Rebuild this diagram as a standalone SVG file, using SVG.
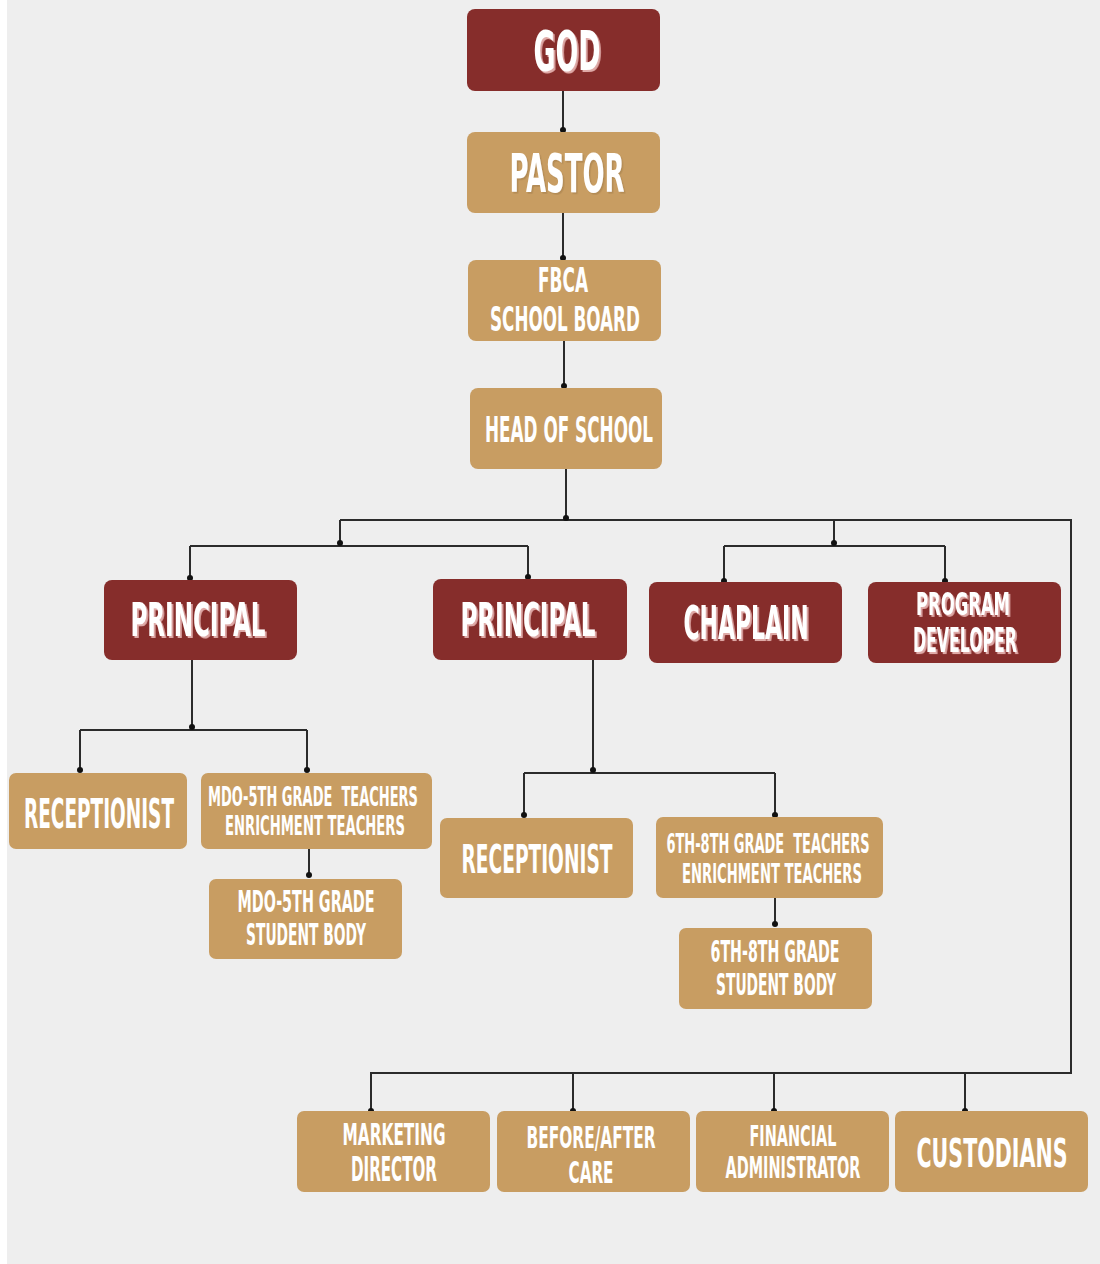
<svg xmlns="http://www.w3.org/2000/svg" width="1100" height="1264" viewBox="0 0 1100 1264">
<defs>
<style>
.red{fill:#862d2b}
.gold{fill:#c89d62}
.t{font-family:"DejaVu Sans Condensed","Liberation Sans",sans-serif;font-weight:bold;fill:#ffffff;text-anchor:middle}
.c{fill:none;stroke:#2b2b2b;stroke-width:2}
.d{fill:#111111}
</style>
<filter id="sh" x="-10%" y="-20%" width="130%" height="150%">
<feDropShadow dx="1.8" dy="1.1" stdDeviation="0.3" flood-color="#e8b7b5" flood-opacity="0.9"/>
</filter>
<filter id="shg" x="-10%" y="-20%" width="130%" height="150%">
<feDropShadow dx="1.5" dy="0.9" stdDeviation="0.4" flood-color="#8a6a3a" flood-opacity="0.35"/>
</filter>
</defs>
<rect x="0" y="0" width="1100" height="1264" fill="#ffffff"/>
<rect x="7" y="0" width="1093" height="1264" fill="#eeeeee"/>

<g id="connectors">
<path class="c" d="M563 91V130M563 213V258M564 341V386M566 469V518"/>
<path class="c" d="M340 520H1071V1073H371V1111M340 520V546M190 546H528M190 546V578M528 546V578"/>
<path class="c" d="M834 520V546M724 546H945M724 546V582M945 546V582"/>
<path class="c" d="M192 660V730M80 730H307M80 730V771M307 730V771M309 849V875"/>
<path class="c" d="M593 660V773M524 773H775M524 773V816M775 773V816M775 898V924"/>
<path class="c" d="M573 1073V1111M774 1073V1111M965 1073V1111"/>
<g class="d">
<circle cx="563" cy="130" r="3"/><circle cx="563" cy="258" r="3"/><circle cx="564" cy="386" r="3"/><circle cx="566" cy="518" r="3"/>
<circle cx="340" cy="543" r="3"/><circle cx="190" cy="578" r="3"/><circle cx="528" cy="577" r="3"/>
<circle cx="834" cy="543" r="3"/><circle cx="724" cy="581" r="3"/><circle cx="945" cy="581" r="3"/>
<circle cx="192" cy="727" r="3"/><circle cx="80" cy="770" r="3"/><circle cx="307" cy="770" r="3"/><circle cx="309" cy="875" r="3"/>
<circle cx="593" cy="770" r="3"/><circle cx="524" cy="815" r="3"/><circle cx="775" cy="815" r="3"/><circle cx="775" cy="924" r="3"/>
<circle cx="371" cy="1111" r="3"/><circle cx="573" cy="1111" r="3"/><circle cx="774" cy="1111" r="3"/><circle cx="965" cy="1111" r="3"/>
</g>
</g>

<g id="god"><rect class="red" x="467" y="9" width="193" height="82" rx="8"/>
<text class="t" x="567" y="70" font-size="29.8" textLength="67" lengthAdjust="spacingAndGlyphs" transform="matrix(1 0 0 1.84 0 -58.8)" filter="url(#sh)">GOD</text></g>

<g id="pastor"><rect class="gold" x="467" y="132" width="193" height="81" rx="8"/>
<text class="t" x="567" y="192" font-size="28.2" textLength="115" lengthAdjust="spacingAndGlyphs" transform="matrix(1 0 0 1.9 0 -172.8)" filter="url(#shg)">PASTOR</text></g>

<g id="board"><rect class="gold" x="468" y="260" width="193" height="81" rx="8"/>
<text class="t" x="563" y="292" font-size="18.8" textLength="50" lengthAdjust="spacingAndGlyphs" transform="matrix(1 0 0 1.75 0 -219)">FBCA</text>
<text class="t" x="565" y="331" font-size="18.6" textLength="150" lengthAdjust="spacingAndGlyphs" transform="matrix(1 0 0 1.77 0 -254.87)">SCHOOL BOARD</text></g>

<g id="head"><rect class="gold" x="470" y="388" width="192" height="81" rx="8"/>
<text class="t" x="569" y="442" font-size="18.7" textLength="168" lengthAdjust="spacingAndGlyphs" transform="matrix(1 0 0 1.9 0 -397.8)">HEAD OF SCHOOL</text></g>

<g id="principal1"><rect class="red" x="104" y="580" width="193" height="80" rx="8"/>
<text class="t" x="198" y="636" font-size="25.2" textLength="135" lengthAdjust="spacingAndGlyphs" transform="matrix(1 0 0 1.8 0 -508.8)" filter="url(#sh)">PRINCIPAL</text></g>

<g id="principal2"><rect class="red" x="433" y="579" width="194" height="81" rx="8"/>
<text class="t" x="528" y="636" font-size="25.2" textLength="135" lengthAdjust="spacingAndGlyphs" transform="matrix(1 0 0 1.8 0 -508.8)" filter="url(#sh)">PRINCIPAL</text></g>

<g id="chaplain"><rect class="red" x="649" y="582" width="193" height="81" rx="8"/>
<text class="t" x="746" y="639" font-size="24.4" textLength="125" lengthAdjust="spacingAndGlyphs" transform="matrix(1 0 0 1.86 0 -549.54)" filter="url(#sh)">CHAPLAIN</text></g>

<g id="developer"><rect class="red" x="868" y="582" width="193" height="81" rx="8"/>
<text class="t" x="963" y="615" font-size="18.3" textLength="94" lengthAdjust="spacingAndGlyphs" transform="matrix(1 0 0 1.73 0 -448.95)" filter="url(#sh)">PROGRAM</text>
<text class="t" x="965" y="652" font-size="17.4" textLength="104" lengthAdjust="spacingAndGlyphs" transform="matrix(1 0 0 1.89 0 -580.28)" filter="url(#sh)">DEVELOPER</text></g>

<g id="receptionist1"><rect class="gold" x="9" y="773" width="178" height="76" rx="7"/>
<text class="t" x="99" y="828" font-size="20.5" textLength="150" lengthAdjust="spacingAndGlyphs" transform="matrix(1 0 0 2 0 -828)">RECEPTIONIST</text></g>

<g id="mdo-teachers"><rect class="gold" x="201" y="773" width="231" height="76" rx="7"/>
<text class="t" x="313" y="806" font-size="14.5" textLength="210" lengthAdjust="spacingAndGlyphs" transform="matrix(1 0 0 1.89 0 -717.34)" xml:space="preserve">MDO-5TH GRADE  TEACHERS</text>
<text class="t" x="315" y="835" font-size="14.65" textLength="180" lengthAdjust="spacingAndGlyphs" transform="matrix(1 0 0 1.87 0 -726.45)">ENRICHMENT TEACHERS</text></g>

<g id="mdo-students"><rect class="gold" x="209" y="879" width="193" height="80" rx="7"/>
<text class="t" x="306" y="912" font-size="16" textLength="137" lengthAdjust="spacingAndGlyphs" transform="matrix(1 0 0 1.89 0 -811.68)">MDO-5TH GRADE</text>
<text class="t" x="306" y="945" font-size="15.2" textLength="120" lengthAdjust="spacingAndGlyphs" transform="matrix(1 0 0 1.98 0 -926.1)">STUDENT BODY</text></g>

<g id="receptionist2"><rect class="gold" x="440" y="818" width="193" height="80" rx="7"/>
<text class="t" x="537" y="873" font-size="20.7" textLength="151" lengthAdjust="spacingAndGlyphs" transform="matrix(1 0 0 1.85 0 -742.05)">RECEPTIONIST</text></g>

<g id="ms-teachers"><rect class="gold" x="656" y="817" width="227" height="81" rx="7"/>
<text class="t" x="768" y="853" font-size="14.4" textLength="203" lengthAdjust="spacingAndGlyphs" transform="matrix(1 0 0 1.9 0 -767.7)" xml:space="preserve">6TH-8TH GRADE  TEACHERS</text>
<text class="t" x="772" y="883" font-size="14.65" textLength="180" lengthAdjust="spacingAndGlyphs" transform="matrix(1 0 0 1.87 0 -768.21)">ENRICHMENT TEACHERS</text></g>

<g id="ms-students"><rect class="gold" x="679" y="928" width="193" height="81" rx="7"/>
<text class="t" x="775" y="962" font-size="15.8" textLength="129" lengthAdjust="spacingAndGlyphs" transform="matrix(1 0 0 1.91 0 -875.42)">6TH-8TH GRADE</text>
<text class="t" x="776" y="995" font-size="15.2" textLength="120" lengthAdjust="spacingAndGlyphs" transform="matrix(1 0 0 1.98 0 -975.1)">STUDENT BODY</text></g>

<g id="marketing"><rect class="gold" x="297" y="1111" width="193" height="81" rx="7"/>
<text class="t" x="394" y="1145" font-size="17" textLength="103" lengthAdjust="spacingAndGlyphs" transform="matrix(1 0 0 1.77 0 -881.65)">MARKETING</text>
<text class="t" x="394" y="1181" font-size="16.8" textLength="86" lengthAdjust="spacingAndGlyphs" transform="matrix(1 0 0 1.96 0 -1133.76)">DIRECTOR</text></g>

<g id="care"><rect class="gold" x="497" y="1111" width="193" height="81" rx="7"/>
<text class="t" x="591" y="1148" font-size="17.1" textLength="129" lengthAdjust="spacingAndGlyphs" transform="matrix(1 0 0 1.77 0 -883.96)">BEFORE/AFTER</text>
<text class="t" x="591" y="1183" font-size="16.9" textLength="45" lengthAdjust="spacingAndGlyphs" transform="matrix(1 0 0 1.78 0 -922.74)">CARE</text></g>

<g id="financial"><rect class="gold" x="696" y="1111" width="193" height="81" rx="7"/>
<text class="t" x="793" y="1146" font-size="16.1" textLength="87" lengthAdjust="spacingAndGlyphs" transform="matrix(1 0 0 1.79 0 -905.34)">FINANCIAL</text>
<text class="t" x="793" y="1178" font-size="15.5" textLength="135" lengthAdjust="spacingAndGlyphs" transform="matrix(1 0 0 1.95 0 -1119.1)">ADMINISTRATOR</text></g>

<g id="custodians"><rect class="gold" x="895" y="1111" width="193" height="81" rx="7"/>
<text class="t" x="992" y="1167" font-size="22.9" textLength="151" lengthAdjust="spacingAndGlyphs" transform="matrix(1 0 0 1.74 0 -863.58)">CUSTODIANS</text></g>
</svg>
